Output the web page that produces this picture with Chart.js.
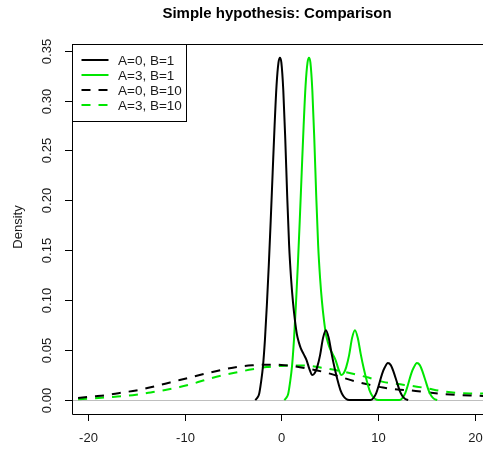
<!DOCTYPE html>
<html>
<head>
<meta charset="utf-8">
<script src="https://cdn.jsdelivr.net/npm/chart.js@4"></script>
<style>
html,body{margin:0;padding:0;background:#fff;overflow:hidden;}
canvas{display:block;}
</style>
</head>
<body>
<canvas id="c" width="483" height="450"></canvas>
<script>
// ---- Data ----
const titleText = "Simple hypothesis: Comparison";
const yAxisLabel = "Density";
const seriesLabels = ["A=0, B=1", "A=3, B=1", "A=0, B=10", "A=3, B=10"];
const xTicks = [-20, -10, 0, 10, 20];
const yTicks = [0, 0.05, 0.10, 0.15, 0.20, 0.25, 0.30, 0.35];

// A=0, B=1 (black solid)
const xA0B1 = [-2.7,-2.5,-2.3,-2.1,-1.9,-1.7,-1.5,-1.3,-1.1,-0.9,-0.7,-0.5,-0.3,-0.15,0.0,0.2,0.4,0.6,0.8,1.0,1.2,1.4,1.6,1.8,2.0,2.3,2.6,2.9,3.2,3.45,3.7,4.0,4.3,4.6,4.9,5.2,5.5,5.8,6.1,6.4,6.7,7.0,9.2,9.5,9.8,10.1,10.4,10.7,11.0,11.3,11.6,11.9,12.2,12.5,12.8,13.1];
const yA0B1 = [0,0.002,0.006,0.018,0.034,0.060,0.095,0.135,0.180,0.228,0.275,0.315,0.338,0.343,0.338,0.310,0.262,0.205,0.155,0.122,0.098,0.080,0.066,0.058,0.052,0.046,0.040,0.031,0.025,0.027,0.033,0.045,0.062,0.070,0.062,0.046,0.032,0.020,0.010,0.004,0.001,0,0,0.002,0.007,0.016,0.026,0.033,0.037,0.035,0.028,0.019,0.010,0.004,0.001,0];

// A=3, B=1 (green solid)
const xA3B1 = [0.3,0.5,0.7,0.9,1.1,1.3,1.5,1.7,1.9,2.1,2.3,2.5,2.7,2.85,3.0,3.2,3.4,3.6,3.8,4.0,4.2,4.4,4.6,4.8,5.0,5.3,5.6,5.9,6.2,6.45,6.7,7.0,7.3,7.6,7.9,8.2,8.5,8.8,9.1,9.4,9.7,10.0,12.2,12.5,12.8,13.1,13.4,13.7,14.0,14.3,14.6,14.9,15.2,15.5,15.8,16.1];
const yA3B1 = [0,0.002,0.006,0.018,0.034,0.060,0.095,0.135,0.180,0.228,0.275,0.315,0.338,0.343,0.338,0.310,0.262,0.205,0.155,0.122,0.098,0.080,0.066,0.058,0.052,0.046,0.040,0.031,0.025,0.027,0.033,0.045,0.062,0.070,0.062,0.046,0.032,0.020,0.010,0.004,0.001,0,0,0.002,0.007,0.016,0.026,0.033,0.037,0.035,0.028,0.019,0.010,0.004,0.001,0];

// A=0, B=10 (black dashed)
const xA0B10 = [-21.0,-19.5,-18.0,-16.5,-15.0,-13.5,-12.0,-10.5,-9.0,-7.5,-6.0,-4.5,-3.0,-1.5,0.0,1.5,3.0,4.5,6.0,7.5,9.0,10.5,12.0,13.5,15.0,16.5,18.0,19.5,21.0];
const yA0B10 = [0.002,0.0035,0.005,0.0075,0.0095,0.0128,0.0164,0.0200,0.0237,0.0272,0.0305,0.0333,0.0348,0.0354,0.0352,0.0336,0.0310,0.0278,0.0235,0.0190,0.0155,0.0125,0.0105,0.0095,0.0078,0.0063,0.0052,0.0045,0.0040];

// A=3, B=10 (green dashed)
const xA3B10 = [-21.0,-19.5,-18.0,-16.5,-15.0,-13.5,-12.0,-10.5,-9.0,-7.5,-6.0,-4.5,-3.0,-1.5,0.0,1.5,3.0,4.5,6.0,7.5,9.0,10.5,12.0,13.5,15.0,16.5,18.0,19.5,21.0];
const yA3B10 = [0.0008,0.0015,0.0027,0.0038,0.0054,0.0076,0.0100,0.0130,0.0168,0.0212,0.0250,0.0280,0.0308,0.0330,0.0342,0.0346,0.0342,0.0318,0.0292,0.0260,0.0225,0.0182,0.0160,0.0142,0.0118,0.0090,0.0072,0.0066,0.0066];

// ---- Build chart ----
const pts = (xs, ys) => xs.map((x, i) => ({x: x, y: ys[i]}));
const GREEN = '#00e600';
const DASH = [9, 8];
const FONT = '"Liberation Sans", Arial, sans-serif';
const TEXT = '#1a1a1a';

const styles = [
  {color: '#000000', dash: []},
  {color: GREEN, dash: []},
  {color: '#000000', dash: DASH},
  {color: GREEN, dash: DASH}
];
const seriesData = [pts(xA0B1, yA0B1), pts(xA3B1, yA3B1), pts(xA0B10, yA0B10), pts(xA3B10, yA3B10)];

const rAxes = {
  id: 'rAxes',
  beforeDatasetsDraw(chart) {
    const {ctx, chartArea: a, scales: {x, y}} = chart;
    ctx.save();
    // zero reference line
    const y0 = Math.round(y.getPixelForValue(0)) + 0.5;
    ctx.strokeStyle = '#bebebe';
    ctx.lineWidth = 1;
    ctx.beginPath(); ctx.moveTo(a.left, y0); ctx.lineTo(a.right, y0); ctx.stroke();
    ctx.restore();
  },
  afterDatasetsDraw(chart) {
    const {ctx, chartArea: a, scales: {x, y}} = chart;
    ctx.save();
    // box
    ctx.strokeStyle = '#000';
    ctx.lineWidth = 1;
    ctx.beginPath();
    ctx.moveTo(a.right + 5, a.top + 0.5); ctx.lineTo(a.left + 0.5, a.top + 0.5);
    ctx.lineTo(a.left + 0.5, a.bottom + 0.5); ctx.lineTo(a.right + 5, a.bottom + 0.5);
    ctx.stroke();
    // y ticks
    ctx.fillStyle = TEXT;
    ctx.font = '13px ' + FONT;
    ctx.textAlign = 'center';
    ctx.textBaseline = 'middle';
    yTicks.forEach(v => {
      const py = Math.round(y.getPixelForValue(v)) + 0.5;
      ctx.beginPath(); ctx.moveTo(a.left - 7, py); ctx.lineTo(a.left, py); ctx.stroke();
      ctx.save();
      ctx.translate(a.left - 25, py);
      ctx.rotate(-Math.PI / 2);
      ctx.fillText(v.toFixed(2), 0, 0);
      ctx.restore();
    });
    // x ticks
    xTicks.forEach(v => {
      const px = Math.round(x.getPixelForValue(v)) + 0.5;
      ctx.beginPath(); ctx.moveTo(px, a.bottom); ctx.lineTo(px, a.bottom + 7); ctx.stroke();
      ctx.fillText(String(v), px, a.bottom + 24);
    });
    // y axis title
    ctx.save();
    ctx.translate(18, (a.top + a.bottom) / 2 - 2);
    ctx.rotate(-Math.PI / 2);
    ctx.fillText(yAxisLabel, 0, 0);
    ctx.restore();
    // main title
    ctx.font = 'bold 15px ' + FONT;
    ctx.fillStyle = '#000';
    ctx.fillText(titleText, 277, 14);
    // legend
    const lx = a.left + 0.5, ly = a.top + 0.5, lw = 114, lh = 77;
    ctx.fillStyle = '#fff';
    ctx.fillRect(lx, ly, lw, lh);
    ctx.strokeStyle = '#000';
    ctx.strokeRect(lx, ly, lw, lh);
    ctx.font = '13.5px ' + FONT;
    ctx.textAlign = 'left';
    const rows = [60, 75, 90, 105];
    seriesLabels.forEach((lab, i) => {
      const ry = rows[i];
      ctx.strokeStyle = styles[i].color;
      ctx.lineWidth = 2;
      ctx.setLineDash(styles[i].dash);
      ctx.beginPath(); ctx.moveTo(a.left + 9.5, ry); ctx.lineTo(a.left + 36.5, ry); ctx.stroke();
      ctx.setLineDash([]);
      ctx.fillStyle = TEXT;
      ctx.fillText(lab, a.left + 46, ry + 1);
    });
    ctx.restore();
  }
};

new Chart(document.getElementById('c'), {
  type: 'line',
  data: {
    datasets: seriesData.map((d, i) => ({
      label: seriesLabels[i],
      data: d,
      borderColor: styles[i].color,
      borderDash: styles[i].dash,
      borderWidth: 2,
      pointRadius: 0,
      fill: false,
      cubicInterpolationMode: 'monotone'
    }))
  },
  options: {
    responsive: false,
    animation: false,
    events: [],
    layout: {padding: {left: 72, top: 44, right: 0, bottom: 36}},
    plugins: {legend: {display: false}, title: {display: false}, tooltip: {enabled: false}},
    scales: {
      x: {type: 'linear', display: false, min: -21.63, max: 20.83},
      y: {type: 'linear', display: false, min: -0.014, max: 0.3567}
    }
  },
  plugins: [rAxes]
});
</script>
</body>
</html>
